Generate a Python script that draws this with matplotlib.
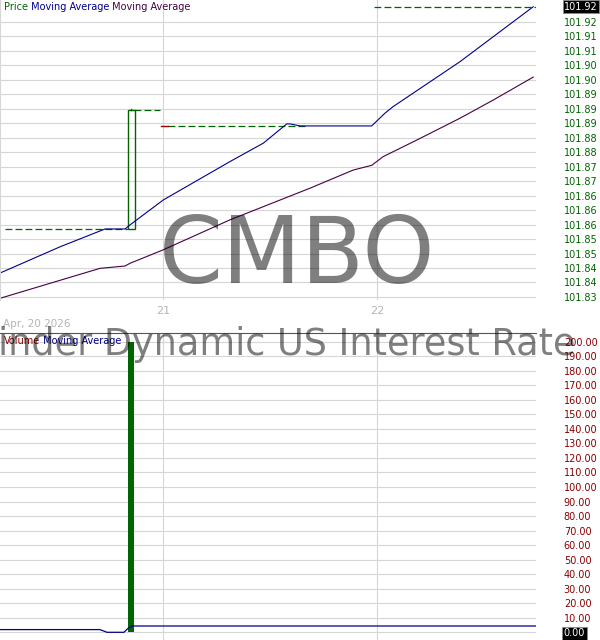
import matplotlib
matplotlib.use('Agg')
import matplotlib.pyplot as plt
from matplotlib.transforms import blended_transform_factory

plt.rcParams['font.family'] = ['DejaVu Sans']

# time axis in days of April 2026
# price moving average (blue)
ma_fast_t = [20.240, 20.520, 20.730, 20.823, 20.846, 21.001, 21.312, 21.468, 21.577,
             21.592, 21.639, 21.973, 22.035, 22.072, 22.385, 22.726]
ma_fast_v = [101.8411, 101.8489, 101.8542, 101.8542, 101.8554, 101.8628, 101.8742, 101.8797,
             101.8854, 101.8854, 101.8848, 101.8848, 101.8886, 101.8905, 101.9039, 101.9202]
# second moving average (purple)
ma_slow_t = [20.240, 20.706, 20.823, 20.846, 21.001, 21.312, 21.685, 21.887, 21.973,
             22.027, 22.183, 22.385, 22.540, 22.726]
ma_slow_v = [101.8336, 101.8425, 101.8432, 101.8440, 101.8480, 101.8569, 101.8663, 101.8717,
             101.8731, 101.8757, 101.8806, 101.8871, 101.8925, 101.8993]
# flat price stretches (start, end, price)
flat_start = [20.263, 20.867, 21.023, 21.984]
flat_end = [20.837, 20.986, 21.667, 22.739]
flat_price = [101.8542, 101.8895, 101.8848, 101.9202]
# one up candle and one tiny down tick
candle_t = 20.853
candle_open = 101.8542
candle_close = 101.8895
candle_high = 101.8899
down_tick = (20.991, 21.023, 101.8848)
last_price = 101.9202

price_ticks = [101.8340, 101.8383, 101.8426, 101.8469, 101.8512, 101.8555, 101.8598,
               101.8641, 101.8684, 101.8727, 101.8770, 101.8813, 101.8856, 101.8899,
               101.8942, 101.8985, 101.9028, 101.9071, 101.9114, 101.9157]
price_labels = ['101.83', '101.84', '101.84', '101.85', '101.85', '101.86', '101.86',
                '101.86', '101.87', '101.87', '101.88', '101.88', '101.89', '101.89',
                '101.89', '101.90', '101.90', '101.91', '101.91', '101.92']

# volume
vol_t = [20.853]
vol_v = [200]
vol_ma_t = [20.240, 20.706, 20.739, 20.818, 20.837, 20.856, 22.739]
vol_ma_v = [1.86, 1.86, 0.0, 0.0, 2.75, 4.34, 4.34]
vol_ticks = [0, 10, 20, 30, 40, 50, 60, 70, 80, 90, 100, 110, 120, 130, 140, 150,
             160, 170, 180, 190, 200]

day_ticks = [21, 22]
day_labels = ['21', '22']

GREEN = '#006400'
BLUE = '#00008c'
PURPLE = '#470045'
RED = '#8b0000'
GRID = '#d6d6d6'
LIGHT = '#b4b4b4'

fig = plt.figure(figsize=(6, 6.4), dpi=100)
ax1 = fig.add_axes([0, 340 / 640, 536 / 600, 300 / 640])
ax2 = fig.add_axes([0, 0, 536 / 600, 307.3 / 640])

x0, x1 = 20.240, 22.739

# ---- price panel
ax1.set_xlim(x0, x1)
ax1.set_ylim(101.8331, 101.9222)
for s in ['top', 'right', 'bottom']:
    ax1.spines[s].set_visible(False)
ax1.spines['left'].set_color(GRID)
ax1.yaxis.tick_right()
ax1.set_yticks(price_ticks)
ax1.set_yticklabels(price_labels)
ax1.tick_params(axis='y', length=0, pad=20, labelsize=7, labelcolor=GREEN)
ax1.set_xticks(day_ticks)
ax1.set_xticklabels(day_labels)
ax1.tick_params(axis='x', length=0, pad=4.5, labelsize=8, labelcolor=LIGHT)
ax1.grid(True, color=GRID, lw=0.8)
ax1.set_axisbelow(True)

for a, b, p in zip(flat_start, flat_end, flat_price):
    ax1.plot([a, b], [p, p], color=GREEN, lw=0.9, ls=(0, (5.5, 2.5)))
ax1.plot([down_tick[0], down_tick[1]], [down_tick[2], down_tick[2]], color='#990000', lw=1)
w = 0.030
ax1.add_patch(plt.Rectangle((candle_t - w / 2, candle_open), w, candle_close - candle_open,
                            fill=False, edgecolor=GREEN, lw=1))
ax1.plot([candle_t, candle_t], [candle_close, candle_high], color=GREEN, lw=1)
ax1.plot(ma_fast_t, ma_fast_v, color=BLUE, lw=0.8)
ax1.plot(ma_slow_t, ma_slow_v, color=PURPLE, lw=0.8)

tr = blended_transform_factory(ax1.transAxes, ax1.transData)
ax1.text(564 / 536, last_price, '%.2f' % last_price, transform=tr, ha='left', va='center',
         fontsize=7, color='white', clip_on=False,
         bbox=dict(boxstyle='square,pad=0.15', facecolor='black', edgecolor='#888888', lw=0.6))

t = ax1.text(4 / 536, 1 - 7 / 300, 'Price', transform=ax1.transAxes, fontsize=7,
             color=GREEN, va='center', ha='left')
t = ax1.annotate(' Moving Average', xy=(1, 0), xycoords=t, va='bottom', fontsize=7, color=BLUE)
ax1.annotate(' Moving Average', xy=(1, 0), xycoords=t, va='bottom', fontsize=7, color=PURPLE)

# ---- volume panel
ax2.set_xlim(x0, x1)
ax2.set_ylim(-5.3, 206.2)
for s in ['left', 'right', 'bottom']:
    ax2.spines[s].set_visible(False)
ax2.spines['top'].set_color('#555555')
ax2.yaxis.tick_right()
ax2.set_yticks(vol_ticks)
ax2.set_yticklabels(['%.2f' % v for v in vol_ticks])
ax2.tick_params(axis='y', length=0, pad=20, labelsize=7, labelcolor=RED)
ax2.set_xticks(day_ticks)
ax2.set_xticklabels([])
ax2.tick_params(axis='x', length=0)
ax2.grid(True, color=GRID, lw=0.8)
ax2.set_axisbelow(True)
zero = ax2.yaxis.get_major_ticks()[0].label2
zero.set_color('white')
zero.set_bbox(dict(boxstyle='square,pad=0.15', facecolor='black', edgecolor='#888888', lw=0.6))

ax2.bar(vol_t, vol_v, width=0.028, color=GREEN)
ax2.plot(vol_ma_t, vol_ma_v, color=BLUE, lw=0.9)

t = ax2.text(4 / 536, 1 - 8 / 307.3, 'Volume',
             transform=ax2.transAxes, fontsize=7, color=RED, va='center', ha='left')
ax2.annotate(' Moving Average', xy=(1, 0), xycoords=t, va='bottom', fontsize=7, color=BLUE)

# ---- labels and watermarks
fig.text(3 / 600, 1 - 327 / 640, 'Apr, 20 2026', fontsize=7.5, color=LIGHT,
         ha='left', va='baseline')
fig.text(297 / 600, 1 - 283 / 640, 'CMBO', fontsize=66, color='black', alpha=0.5,
         ha='center', va='baseline')
fig.text(-2 / 600, 1 - 355 / 640, 'inder Dynamic US Interest Rate', fontsize=26.4,
         color='black', alpha=0.5, ha='left', va='baseline')

fig.savefig('out.png', dpi=100)
